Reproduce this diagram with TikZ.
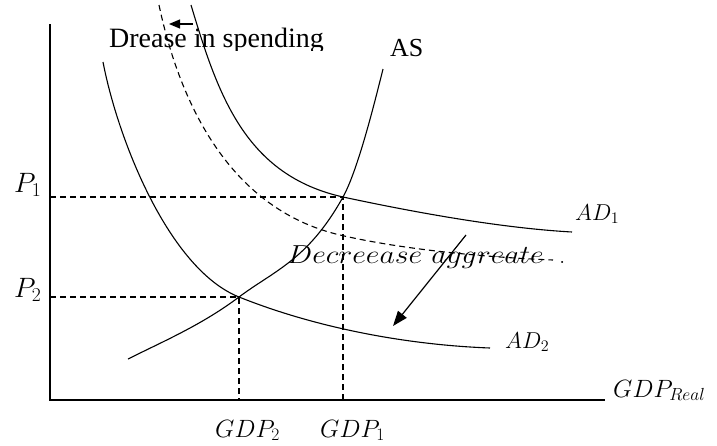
\RequirePackage{fix-cm}
\documentclass[tikz,border=0pt]{standalone}
\usepackage{fontspec}
\newfontfamily\timesfont{Liberation Serif}
\usetikzlibrary{arrows.meta}
\begin{document}
\begin{tikzpicture}[x=1pt,y=-1pt,
  curve/.style={line width=1.1pt},
  guide/.style={line width=1.1pt, dash pattern=on 6pt off 4pt},
  axisline/.style={line width=1.4pt},
  mlabel/.style={inner sep=0pt, anchor=base west, font=\fontsize{25}{29}\selectfont},
  tlabel/.style={inner sep=0pt, anchor=base west, font=\timesfont\fontsize{28}{32}\selectfont},
  arr/.style={line width=1.2pt, -{Triangle[length=11pt,width=9pt]}}]
\useasboundingbox (0,0) rectangle (717,445);
% axes
\coordinate (ytop) at (50,24);
\coordinate (O) at (50,400);
\coordinate (xend) at (605,400);
\draw[axisline] (ytop) -- (O) -- (xend);
% equilibria and projections
\coordinate (E1) at (343,197);
\coordinate (E2) at (239,297);
\coordinate (P1) at (50,197);
\coordinate (P2) at (50,297);
\coordinate (G1) at (343,400);
\coordinate (G2) at (239,400);
\draw[guide] (P1) -- (E1) -- (G1);
\draw[guide] (P2) -- (E2) -- (G2);
% AS
\coordinate (ASa) at (128,359);
\coordinate (ASb) at (383,69);
\draw[curve] (ASa) .. controls (165,340.5) and (202,324.75) .. (E2)
  .. controls (274,270.75) and (308,260) .. (E1)
  .. controls (358,170) and (375,101) .. (ASb);
% AD1
\coordinate (AD1a) at (191,5);
\coordinate (AD1b) at (572,232);
\draw[curve] (AD1a) .. controls (218,95) and (245,175) .. (E1)
  .. controls (413,212) and (500,228) .. (AD1b);
% AD0 dashed
\coordinate (AD0a) at (159,5);
\coordinate (AD0m) at (340,235);
\coordinate (AD0b) at (553,260);
\draw[guide] (AD0a) .. controls (178,95) and (225,208) .. (AD0m)
  .. controls (400,249) and (480,257) .. (AD0b);
% AD2
\coordinate (AD2a) at (103,62);
\coordinate (AD2b) at (490,348);
\draw[curve] (AD2a) .. controls (118,140) and (169,269) .. (E2)
  .. controls (319,329) and (410,345) .. (AD2b);
% arrows
\coordinate (a1) at (193,24);
\coordinate (a2) at (169,24);
\draw[arr] (a1) -- (a2);
\coordinate (b1) at (466,235);
\coordinate (b2) at (393,326);
\draw[arr, -{Triangle[length=15pt,width=11pt]}] (b1) -- (b2);
% labels
\begin{scope}
\clip (0,0) rectangle (717,50);
\node[tlabel] (spend) at (109,47) {Drease in spending};
\end{scope}
\node[tlabel, font=\timesfont\fontsize{26}{30}\selectfont] (AS) at (390,56) {AS};
\node[mlabel, font=\fontsize{28}{32}\selectfont] (lP1) at (14,192) {$P_1$};
\node[mlabel, font=\fontsize{28}{32}\selectfont] (lP2) at (14,297) {$P_2$};
\node[mlabel] (lG2) at (215,437) {$GDP_2$};
\node[mlabel] (lG1) at (320,437) {$GDP_1$};
\node[mlabel] (lGR) at (613,397) {$GDP_{Real}$};
\begin{scope}
\clip (0,0) rectangle (717,223);
\node[mlabel, font=\fontsize{23}{27}\selectfont] (lAD1) at (575,220) {$AD_1$};
\end{scope}
\begin{scope}
\clip (0,0) rectangle (717,352);
\node[mlabel, font=\fontsize{23}{27}\selectfont] (lAD2) at (505,348) {$AD_2$};
\end{scope}
\node[mlabel, font=\fontsize{26}{30}\selectfont] (dec) at (287,263) {\scalebox{1.15}[1]{$Decreease\ aggreate$}};
\node[mlabel] (dot) at (559,263) {.};
\end{tikzpicture}
\end{document}
